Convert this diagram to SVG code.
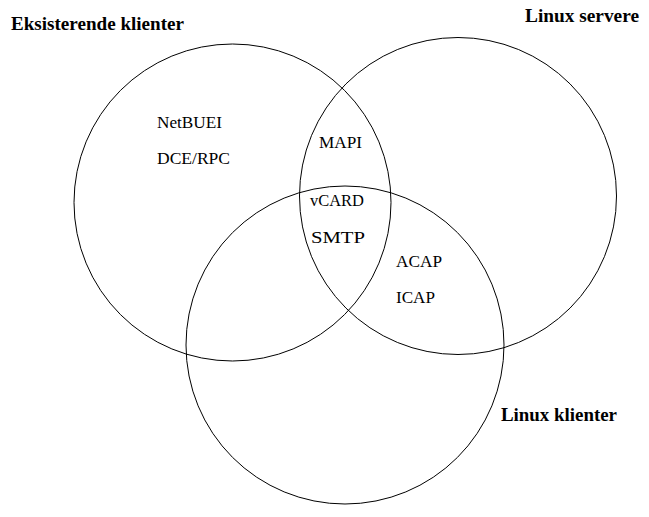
<svg xmlns="http://www.w3.org/2000/svg" width="649" height="517" viewBox="0 0 649 517">
<style>
.c{fill:none;stroke:#000;stroke-width:1}
.t{font-family:"Liberation Serif","Times New Roman",serif;font-size:17px;fill:#000}
.h{font-family:"Liberation Serif","Times New Roman",serif;font-size:18px;font-weight:bold;fill:#000}
</style>
<rect width="649" height="517" fill="#fff"/>
<g id="connectors"></g>
<g id="eksisterende-klienter">
<circle class="c" cx="232.5" cy="202.5" r="158.5"/>
<text class="h" x="11" y="30" textLength="173" lengthAdjust="spacingAndGlyphs">Eksisterende klienter</text>
</g>
<g id="linux-servere">
<circle class="c" cx="458" cy="196" r="158.5"/>
<text class="h" x="525" y="22" textLength="114" lengthAdjust="spacingAndGlyphs">Linux servere</text>
</g>
<g id="linux-klienter">
<circle class="c" cx="345" cy="345" r="159"/>
<text class="h" x="501" y="421" textLength="116" lengthAdjust="spacingAndGlyphs">Linux klienter</text>
</g>
<g id="labels">
<text class="t" x="157" y="128" textLength="65" lengthAdjust="spacingAndGlyphs">NetBUEI</text>
<text class="t" x="157" y="164" textLength="73" lengthAdjust="spacingAndGlyphs">DCE/RPC</text>
<text class="t" x="319" y="148" textLength="43" lengthAdjust="spacingAndGlyphs">MAPI</text>
<text class="t" x="310" y="206" textLength="54" lengthAdjust="spacingAndGlyphs">vCARD</text>
<text class="t" x="311" y="243" textLength="54" lengthAdjust="spacingAndGlyphs">SMTP</text>
<text class="t" x="396" y="267" textLength="46" lengthAdjust="spacingAndGlyphs">ACAP</text>
<text class="t" x="396" y="303" textLength="39" lengthAdjust="spacingAndGlyphs">ICAP</text>
</g>
</svg>
